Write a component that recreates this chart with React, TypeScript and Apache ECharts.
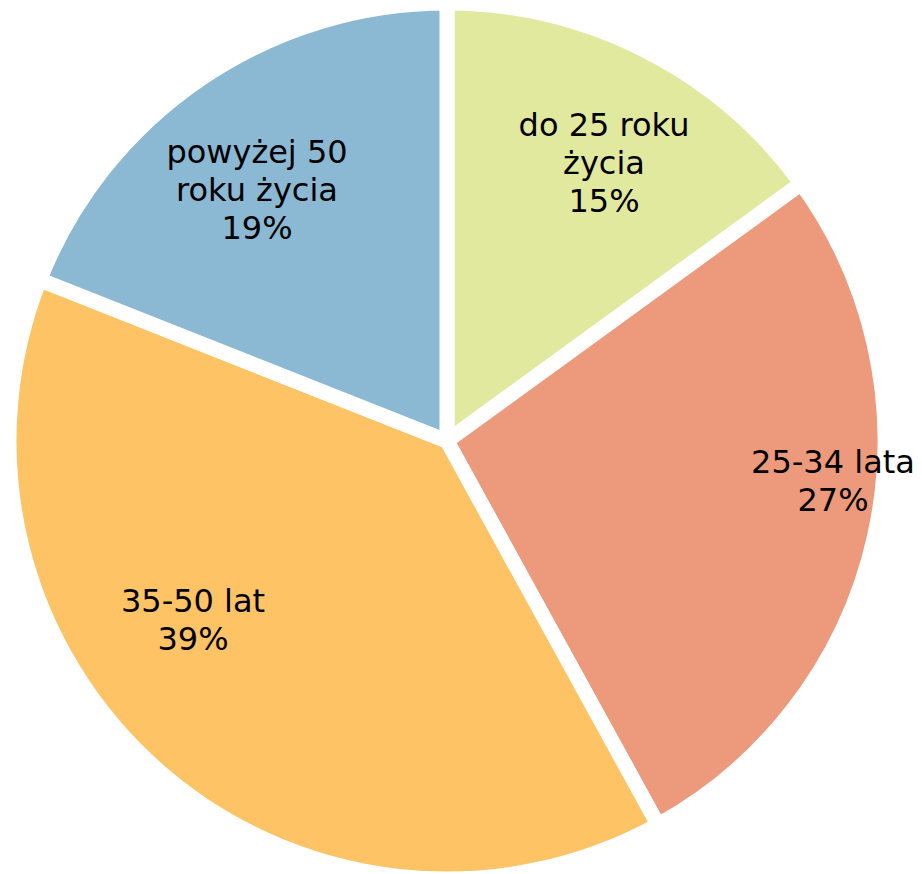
import React, { useEffect, useRef } from "react";
import * as echarts from "echarts";

const categories = ["do 25 roku\nżycia", "25-34 lata", "35-50 lat", "powyżej 50\nroku życia"];
const values = [15, 27, 39, 19];
const colors = ["#E1E99F", "#EC997C", "#FDC364", "#8BB8D3"];
// label block centres (text placement, not data)
const labelX = [604, 833, 193, 257];
const labelY = [163, 481, 620, 190];

export default function App() {
  const ref = useRef<HTMLDivElement>(null);
  useEffect(() => {
    if (!ref.current) return;
    const chart = echarts.init(ref.current, null, { renderer: "svg" });
    chart.setOption({
      animation: false,
      backgroundColor: "#ffffff",
      series: [
        {
          type: "pie",
          center: [447, 441],
          radius: 438,
          startAngle: 90,
          clockwise: true,
          data: categories.map((name, i) => ({
            name,
            value: values[i],
            itemStyle: { color: colors[i] },
          })),
          itemStyle: { borderColor: "#ffffff", borderWidth: 15 },
          label: {
            show: true,
            position: "inside",
            formatter: "{b}\n{c}%",
            color: "#000000",
            fontFamily: "DejaVu Sans",
            fontSize: 32,
            lineHeight: 38,
            align: "center",
          },
          labelLine: { show: false },
          labelLayout: (params: any) => ({
            x: labelX[params.dataIndex],
            y: labelY[params.dataIndex],
            align: "center",
            verticalAlign: "middle",
          }),
          emphasis: { disabled: true },
        },
      ],
    });
    return () => chart.dispose();
  }, []);
  return (
    <div
      ref={ref}
      style={{ position: "fixed", left: 0, top: 0, width: 922, height: 874 }}
    />
  );
}
